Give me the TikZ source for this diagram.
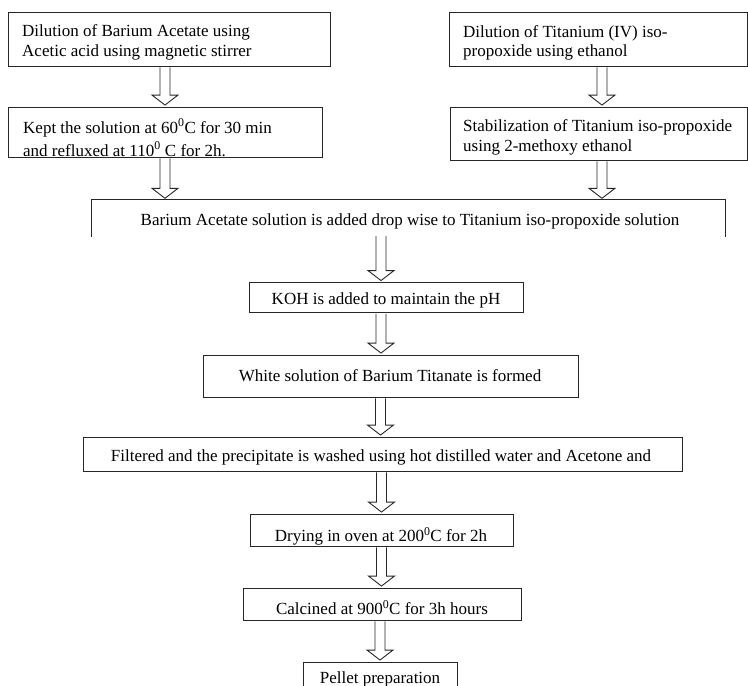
\documentclass[tikz,border=0pt]{standalone}
\usepackage{fontspec}
\setmainfont{Liberation Serif}
\usetikzlibrary{calc}
\tikzset{
  box/.style={draw=black!85, line width=0.9pt, inner sep=0pt},
  txt/.style={inner sep=0pt, anchor=base, font=\fontsize{17}{20}\selectfont, text=black},
  mtxt/.style={inner sep=0pt, anchor=base west, align=left, text=black, font=\fontsize{17}{#1}\selectfont},
  blockarr/.style={draw=black!85, line width=0.9pt, line join=miter},
}
\newcommand\blockarrow[2]{%
  \draw[blockarr] let \p1=(#1), \p2=(#2) in
    ({\x1-5pt},{\y1-1pt}) -- ({\x1-5pt},{\y2+11.5pt}) -- ({\x1-13pt},{\y2+11.5pt}) --
    ({\x1},{\y2+1.5pt}) -- ({\x1+13pt},{\y2+11.5pt}) -- ({\x1+5pt},{\y2+11.5pt}) --
    ({\x1+5pt},{\y1-1pt});}
\begin{document}
\begin{tikzpicture}[x=1pt,y=-1pt]
\useasboundingbox (0,0) rectangle (748,686);
\clip (0,0) rectangle (748,686);
% boxes
\node[box, minimum width=322pt, minimum height=54pt] (A) at (169,39) {};
\node[box, minimum width=314pt, minimum height=50pt] (B) at (165,132) {};
\node[box, minimum width=298pt, minimum height=54pt] (C) at (598,39) {};
\node[box, minimum width=297pt, minimum height=53pt] (D) at (598.5,133.5) {};
\node[inner sep=0pt, minimum width=633pt, minimum height=37pt] (X) at (408.5,218.5) {};
\draw[box] (X.south west) -- (X.north west) -- (X.north east) -- (X.south east);
\node[box, minimum width=274pt, minimum height=30pt] (K) at (386,297.5) {};
\node[box, minimum width=375pt, minimum height=42pt] (W) at (390.5,376) {};
\node[box, minimum width=599pt, minimum height=34pt] (F) at (382.5,454) {};
\node[box, minimum width=263pt, minimum height=32pt] (Dr) at (381.5,530) {};
\node[box, minimum width=278pt, minimum height=32pt] (Ca) at (382,604) {};
\node[box, minimum width=154pt, minimum height=48pt] (P) at (380,686) {};
% texts
\node[mtxt=20] (tA) at (22,56.7) {Dilution of Barium Acetate using\\Acetic acid using magnetic stirrer};
\node[mtxt=23] (tB) at (23,156) {Kept the solution at 60\textsuperscript{0}C for 30 min\\and refluxed at 110\textsuperscript{0} C for 2h.};
\node[mtxt=19.4] (tC) at (463,56.7) {Dilution of Titanium (IV) iso-\\propoxide using ethanol};
\node[mtxt=20] (tD) at (463,151.7) {Stabilization of Titanium iso-propoxide\\using 2-methoxy ethanol};
\node[txt] (tX) at (410,225) {Barium Acetate solution is added drop wise to Titanium iso-propoxide solution};
\node[txt] (tK) at (386,304) {KOH is added to maintain the pH};
\node[txt] (tW) at (390,381) {White solution of Barium Titanate is formed};
\node[txt] (tF) at (381,461) {Filtered and the precipitate is washed using hot distilled water and Acetone and};
\node[txt] (tDr) at (381,541.5) {Drying in oven at 200\textsuperscript{0}C for 2h};
\node[txt] (tCa) at (382,614.5) {Calcined at 900\textsuperscript{0}C for 3h hours};
\node[txt] (tP) at (380,683) {Pellet preparation};
% arrows
\blockarrow{B.north |- A.south}{B.north}
\blockarrow{$(C.south)+(4,0)$}{$(D.north)+(3.5,0)$}
\blockarrow{B.south}{B.south |- X.north}
\blockarrow{$(D.south)+(3.5,0)$}{$(D.south |- X.north)+(3.5,0)$}
\blockarrow{$(F.north |- X.south)+(-1.5,-2)$}{$(F.north |- K.north)+(-1.5,0)$}
\blockarrow{$(F.north |- K.south)+(-1.5,0)$}{$(F.north |- W.north)+(-1.5,0)$}
\blockarrow{$(F.north |- W.south)+(-2,0)$}{$(F.north)+(-2,0)$}
\blockarrow{Dr.north |- F.south}{Dr.north}
\blockarrow{Dr.south}{Dr.south |- Ca.north}
\blockarrow{P.north |- Ca.south}{P.north}
\end{tikzpicture}
\end{document}
